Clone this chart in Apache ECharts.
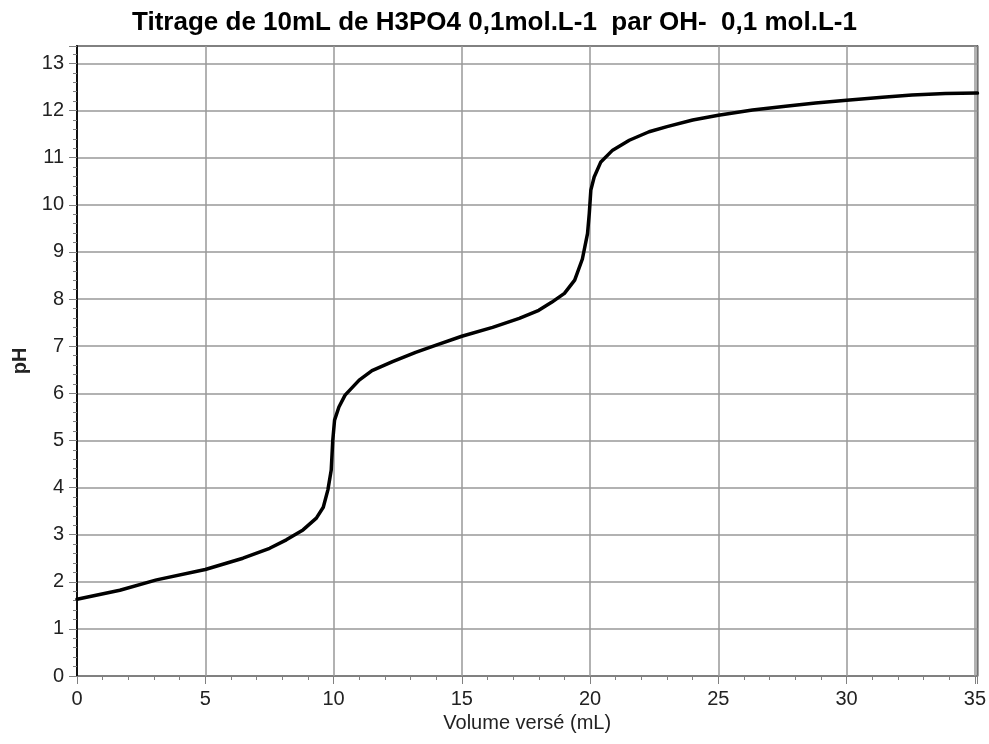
<!DOCTYPE html>
<html>
<head>
<meta charset="utf-8">
<script src="https://cdn.jsdelivr.net/npm/echarts@6/dist/echarts.min.js"></script>
<style>html,body{margin:0;padding:0;background:#fff;}#c{width:989px;height:744px;}</style>
</head>
<body>
<div id="c"></div>
<script>
var titleText = 'Titrage de 10mL de H3PO4 0,1mol.L-1  par OH-  0,1 mol.L-1';
var xName = 'Volume versé (mL)';
var yName = 'pH';
var volumes = [0, 1.67, 3.1, 5, 6.47, 7.51, 8.16, 8.81, 9.33, 9.6, 9.78, 9.91, 9.97, 10.04, 10.21, 10.45, 11.0, 11.5, 12.3, 13.2, 14.0, 15.0, 16.2, 17.24, 18.0, 18.5, 19.0, 19.4, 19.7, 19.9, 19.97, 20.03, 20.16, 20.42, 20.88, 21.53, 22.3, 23.0, 24.0, 25.0, 26.33, 27.62, 28.79, 30.0, 31.4, 32.55, 33.85, 35.1];
var phValues = [1.63, 1.82, 2.04, 2.26, 2.50, 2.71, 2.89, 3.10, 3.35, 3.58, 3.95, 4.37, 5.0, 5.43, 5.71, 5.96, 6.28, 6.48, 6.67, 6.87, 7.02, 7.21, 7.40, 7.59, 7.76, 7.93, 8.12, 8.40, 8.85, 9.39, 9.82, 10.31, 10.59, 10.91, 11.16, 11.37, 11.55, 11.66, 11.80, 11.90, 12.01, 12.09, 12.16, 12.22, 12.28, 12.33, 12.36, 12.37];

var pts = volumes.map(function (v, i) { return [v, phValues[i]]; });
var chart = echarts.init(document.getElementById('c'), null, {renderer: 'canvas'});
var lab = {fontFamily: 'Liberation Sans, Arial, sans-serif', fontSize: 20, color: '#222'};
var intOnly = function (v) { return (Math.abs(v - Math.round(v)) < 1e-6) ? String(v) : ''; };
chart.setOption({
  animation: false,
  backgroundColor: '#fff',
  title: {
    text: titleText, left: 'center', top: 5,
    textStyle: {fontFamily: 'Liberation Sans, Arial, sans-serif', fontWeight: 'bold', fontSize: 26, color: '#000'}
  },
  grid: {left: 77, right: 10, top: 46, bottom: 68, show: true, borderColor: '#000', borderWidth: 1.5, backgroundColor: '#fff'},
  xAxis: {
    type: 'value', min: 0, max: 35.1, interval: 5,
    name: xName, nameLocation: 'middle', nameGap: 36,
    nameTextStyle: {fontFamily: 'Liberation Sans, Arial, sans-serif', fontSize: 20, color: '#222'},
    axisLine: {show: true, onZero: false, lineStyle: {color: '#808080', width: 1}},
    axisTick: {show: true, inside: false, length: 8, lineStyle: {color: '#808080'}},
    minorTick: {show: true, splitNumber: 5, length: 4, lineStyle: {color: '#808080'}},
    axisLabel: Object.assign({margin: 13, showMaxLabel: false, formatter: intOnly}, lab),
    splitLine: {show: true, lineStyle: {color: '#999', width: 1.5}}
  },
  yAxis: {
    type: 'value', min: 0, max: 13.37, interval: 1,
    name: yName, nameLocation: 'middle', nameGap: 30,
    nameTextStyle: {fontFamily: 'Liberation Sans, Arial, sans-serif', fontSize: 20, fontWeight: 'bold', color: '#222'},
    axisLine: {show: true, onZero: false, lineStyle: {color: '#111', width: 2}},
    axisTick: {show: true, inside: false, length: 8, lineStyle: {color: '#808080'}},
    minorTick: {show: true, splitNumber: 5, length: 4, lineStyle: {color: '#808080'}},
    axisLabel: Object.assign({margin: 13, showMaxLabel: false, formatter: intOnly}, lab),
    splitLine: {show: true, lineStyle: {color: '#999', width: 1.5}}
  },
  series: [{
    type: 'line', data: pts, showSymbol: false, smooth: false,
    lineStyle: {color: '#000', width: 3.5, join: 'round', cap: 'round'}, clip: true
  }]
});
</script>
</body>
</html>
